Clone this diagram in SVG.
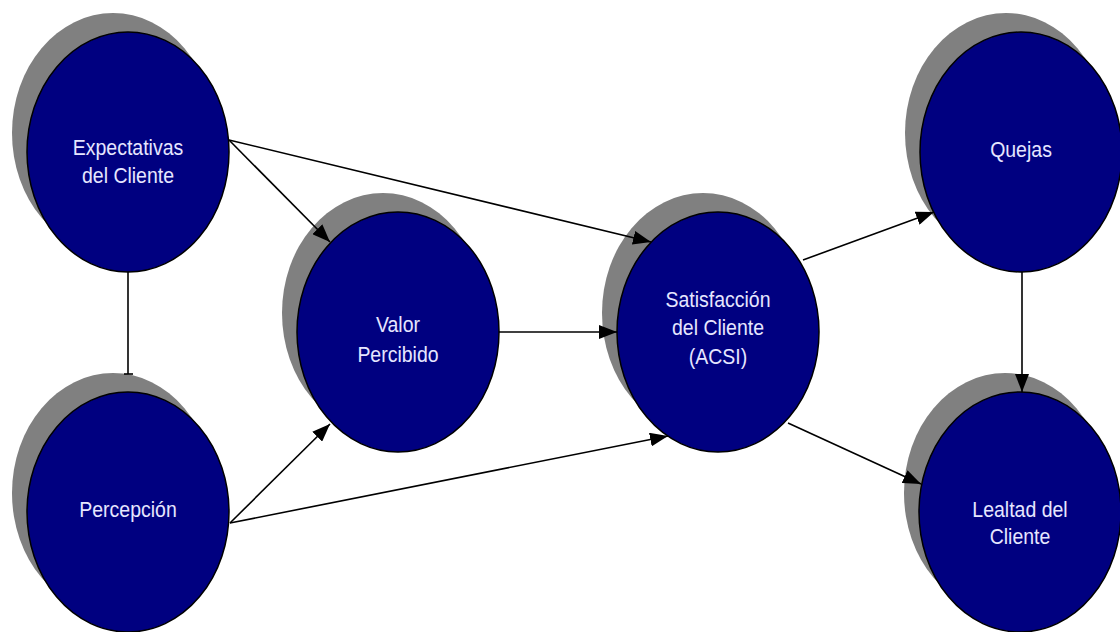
<svg xmlns="http://www.w3.org/2000/svg" width="1120" height="632" viewBox="0 0 1120 632">
<style>
.shadow{fill:#808080;stroke:none}
.node{fill:#000080;stroke:#000;stroke-width:1.5}
.lbl{font-family:"Liberation Sans",Arial,sans-serif;font-size:19.5px;fill:#e6e6ff;text-anchor:middle}
.con{stroke:#000;stroke-width:1.6;fill:none}
</style>
<defs>
<marker id="ah" markerUnits="userSpaceOnUse" markerWidth="20" markerHeight="14" refX="18" refY="7" orient="auto">
<path d="M0,0 L18,7 L0,14 Z" fill="#000"/>
</marker>
</defs>
<rect width="1120" height="632" fill="#fff"/>
<g id="n-expectativas">
<ellipse class="shadow" cx="113" cy="133" rx="101" ry="120"/>
<ellipse class="node" cx="128" cy="152" rx="101" ry="120"/>
<text class="lbl" transform="translate(128,155) scale(1,1.1)">Expectativas</text>
<text class="lbl" transform="translate(128,183) scale(1,1.1)">del Cliente</text>
</g>
<g id="n-percepcion">
<ellipse class="shadow" cx="113" cy="493" rx="101" ry="120"/>
<ellipse class="node" cx="128" cy="512" rx="101" ry="120"/>
<text class="lbl" transform="translate(128,517) scale(1,1.1)">Percepción</text>
</g>
<g id="n-valor">
<ellipse class="shadow" cx="383" cy="313" rx="101" ry="120"/>
<ellipse class="node" cx="398" cy="332" rx="101" ry="120"/>
<text class="lbl" transform="translate(398,332) scale(1,1.1)">Valor</text>
<text class="lbl" transform="translate(398,362) scale(1,1.1)">Percibido</text>
</g>
<g id="n-satisfaccion">
<ellipse class="shadow" cx="703" cy="313" rx="101" ry="120"/>
<ellipse class="node" cx="718" cy="332" rx="101" ry="120"/>
<text class="lbl" transform="translate(718,307) scale(1,1.1)">Satisfacción</text>
<text class="lbl" transform="translate(718,335) scale(1,1.1)">del Cliente</text>
<text class="lbl" transform="translate(718,364) scale(1,1.1)">(ACSI)</text>
</g>
<g id="n-quejas">
<ellipse class="shadow" cx="1006" cy="133" rx="101" ry="120"/>
<ellipse class="node" cx="1021" cy="152" rx="101" ry="120"/>
<text class="lbl" transform="translate(1021,157) scale(1,1.1)">Quejas</text>
</g>
<g id="n-lealtad">
<ellipse class="shadow" cx="1005" cy="493" rx="101" ry="120"/>
<ellipse class="node" cx="1020" cy="512" rx="101" ry="120"/>
<text class="lbl" transform="translate(1020,517) scale(1,1.1)">Lealtad del</text>
<text class="lbl" transform="translate(1020,544) scale(1,1.1)">Cliente</text>
</g>
<g id="connectors">
<line class="con" x1="128" y1="272" x2="128" y2="374"/>
<path class="con" d="M124,374 L133,374"/>
<line class="con" x1="229" y1="140" x2="330" y2="242" marker-end="url(#ah)"/>
<line class="con" x1="229" y1="140" x2="651" y2="242" marker-end="url(#ah)"/>
<line class="con" x1="230" y1="523" x2="330" y2="424" marker-end="url(#ah)"/>
<line class="con" x1="230" y1="523" x2="668" y2="436" marker-end="url(#ah)"/>
<line class="con" x1="499" y1="332" x2="617" y2="332" marker-end="url(#ah)"/>
<line class="con" x1="803" y1="260" x2="934" y2="212" marker-end="url(#ah)"/>
<line class="con" x1="788" y1="423" x2="921" y2="484" marker-end="url(#ah)"/>
<line class="con" x1="1022" y1="272" x2="1022" y2="392" marker-end="url(#ah)"/>
</g>
</svg>
